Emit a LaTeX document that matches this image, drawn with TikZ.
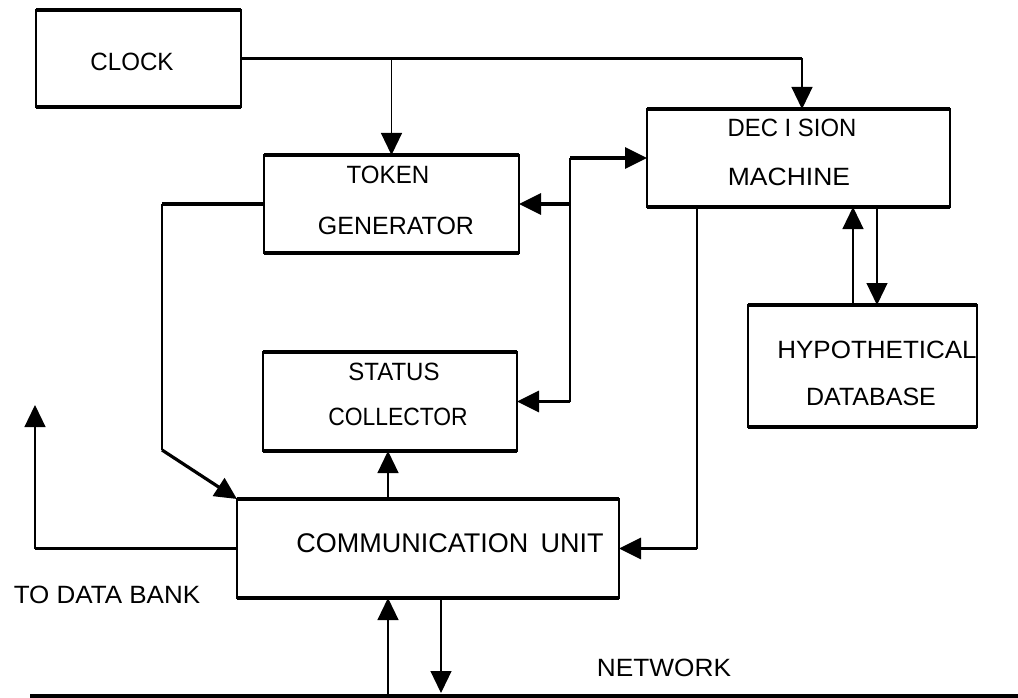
\documentclass[tikz,border=0pt]{standalone}
\usepackage{fontspec}
\setmainfont{Liberation Sans}
\usetikzlibrary{arrows.meta,calc}
% horizontal squeeze/stretch of a label
\newcommand\wscale[2]{\scalebox{#1}[1]{#2}}
\begin{document}
\begin{tikzpicture}[x=1pt,y=-1pt,
  box/.style={draw, line width=1.2pt, inner sep=0pt, outer sep=0pt},
  lbl/.style={inner sep=0pt, font=\fontsize{25}{30}\selectfont},
  vl/.style={line width=1.2pt},
  hl/.style={line width=3.2pt},
  edge/.style={line width=3.4pt, line cap=square},
  tip/.style={-{Triangle[length=22pt,width=21pt]}},
]
\useasboundingbox[fill=white] (0,0) rectangle (1018,698);

% blocks
\node[box, minimum width=205pt, minimum height=97pt] (clock)    at (138.5,58.5) {};
\node[box, minimum width=255pt, minimum height=98pt] (token)    at (391.5,204)  {};
\node[box, minimum width=303pt, minimum height=98pt] (decision) at (798.5,158)  {};
\node[box, minimum width=254pt, minimum height=99pt] (status)   at (390,401.5)  {};
\node[box, minimum width=229pt, minimum height=122pt] (hypo)    at (862.5,366)  {};
\node[box, minimum width=382pt, minimum height=99pt] (comm)     at (428,548.5)  {};

% heavier top and bottom edges of each block
\foreach \b in {clock,token,decision,status,hypo,comm}
  \draw[edge] (\b.north west) -- (\b.north east) (\b.south west) -- (\b.south east);

% block texts
\node[lbl] (clockL) at (132,62)  {\wscale{0.965}{CLOCK}};
\node[lbl] (tokA)   at (388,175) {\wscale{0.965}{TOKEN}};
\node[lbl] (tokB)   at (396,226) {GENERATOR};
\node[lbl] (decA)   at (792,128) {\wscale{0.955}{DEC I SION}};
\node[lbl] (decB)   at (789,177) {\wscale{1.06}{MACHINE}};
\node[lbl] (staA)   at (394,372) {\wscale{0.96}{STATUS}};
\node[lbl] (staB)   at (398,417) {\wscale{0.915}{COLLECTOR}};
\node[lbl] (hypA)   at (877,350) {\wscale{1.04}{HYPOTHETICAL}};
\node[lbl] (hypB)   at (871,397) {DATABASE};
\node[lbl, font=\fontsize{27}{30}\selectfont] (comL) at (450,543) {COMMUNICATION\hspace{0.45em}UNIT};
\node[lbl] (bankL)  at (107,595) {\wscale{1.04}{TO DATA BANK}};
\node[lbl] (netL)   at (664,668) {\wscale{1.05}{NETWORK}};

% network bus
\coordinate (netW) at (30,696);
\coordinate (netE) at (1018,696);
\draw[hl] (netW) -- (netE);

% clock distribution
\coordinate (dmIn) at ([xshift=155pt]decision.north west);
\draw[hl] (clock.east) -- (clock.east -| dmIn);
\draw[vl,tip] (clock.east -| dmIn) -- (dmIn);
\draw[vl,tip] (clock.east -| token.north) -- (token.north);

% decision machine <-> token generator / status collector
\coordinate (bus) at (570,300);
\draw[vl] (bus |- decision.west) -- (bus |- status.east);
\draw[hl,tip] (bus |- decision.west) -- (decision.west);
\draw[hl,tip] (bus |- token.east) -- (token.east);
\draw[hl,tip] (bus |- status.east) -- (status.east);

% token generator -> communication unit
\coordinate (tkL) at (162,450);
\draw[hl] (token.west) -- (token.west -| tkL);
\draw[vl] (token.west -| tkL) -- (tkL);
\draw[hl,tip] (tkL) -- (comm.north west);

% communication unit -> status collector, network links
\coordinate (netUp) at (388,696);
\coordinate (netDn) at (441,693);
\draw[vl,tip] (netUp |- comm.north) -- (netUp |- status.south);
\draw[vl,tip] (netUp) -- (netUp |- comm.south);
\draw[vl,tip] (netDn |- comm.south) -- (netDn);

% decision machine -> communication unit
\coordinate (dmOut) at ([xshift=50pt]decision.south west);
\draw[vl] (dmOut) -- (dmOut |- comm.east);
\draw[hl,tip] (dmOut |- comm.east) -- (comm.east);

% decision machine <-> hypothetical database
\coordinate (hUp) at ([xshift=105pt]hypo.north west);
\coordinate (hDn) at ([xshift=129pt]hypo.north west);
\draw[vl,tip] (hUp) -- (hUp |- decision.south);
\draw[vl,tip] (hDn |- decision.south) -- (hDn);

% communication unit -> data bank
\coordinate (bank) at (35,405);
\draw[hl] (comm.west) -- (comm.west -| bank);
\draw[vl,tip] (comm.west -| bank) -- (bank);
\end{tikzpicture}
\end{document}
